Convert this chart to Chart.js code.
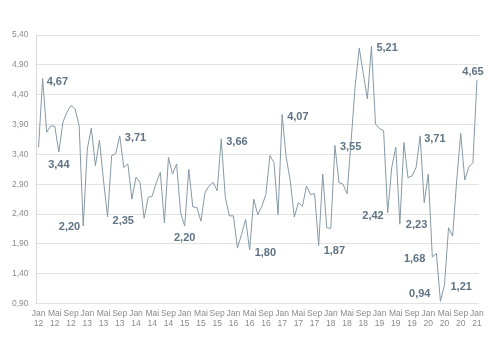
<!DOCTYPE html>
<html>
<head>
<meta charset="utf-8">
<script src="https://cdn.jsdelivr.net/npm/chart.js@4.4.1/dist/chart.umd.min.js"></script>
<style>
  html, body { margin: 0; padding: 0; background: #fff; }
  #wrap { width: 500px; height: 353px; }
</style>
</head>
<body>
<div id="wrap"><canvas id="chart" width="500" height="353"></canvas></div>
<script>
// --- data ---
const monthNames = ['Jan', 'Feb', 'Mär', 'Apr', 'Mai', 'Jun', 'Jul', 'Aug', 'Sep', 'Okt', 'Nov', 'Dez'];
const years = ['12', '13', '14', '15', '16', '17', '18', '19', '20', '21'];

// monthly values, Jan 12 .. Jan 21
const values = [
  3.52, 4.67, 3.77, 3.88, 3.87, 3.44, 3.94, 4.11, 4.22, 4.16, 3.88, 2.20,
  3.49, 3.84, 3.21, 3.64, 2.96, 2.35, 3.38, 3.41, 3.71, 3.18, 3.24, 2.65,
  3.02, 2.93, 2.33, 2.68, 2.70, 2.93, 3.10, 2.25, 3.35, 3.07, 3.24, 2.42,
  2.20, 3.15, 2.52, 2.51, 2.28, 2.76, 2.87, 2.93, 2.79, 3.66, 2.68, 2.37,
  2.37, 1.83, 2.06, 2.31, 1.80, 2.65, 2.39, 2.53, 2.73, 3.38, 3.26, 2.39,
  4.07, 3.35, 2.96, 2.35, 2.59, 2.53, 2.87, 2.73, 2.74, 1.87, 3.07, 2.17,
  2.16, 3.55, 2.93, 2.90, 2.74, 3.63, 4.55, 5.18, 4.75, 4.33, 5.21, 3.91,
  3.83, 3.80, 2.42, 3.18, 3.52, 2.23, 3.60, 3.01, 3.04, 3.18, 3.71, 2.59,
  3.07, 1.68, 1.74, 0.94, 1.21, 2.17, 2.03, 2.96, 3.75, 2.97, 3.19, 3.26,
  4.65
];

// points that carry a value label
const labelledPoints = [1, 5, 11, 17, 20, 36, 45, 52, 60, 69, 73, 82, 86, 89, 94, 97, 99, 100, 108];

// y axis range
const yMin = 0.9, yMax = 5.4, yStep = 0.5;

// category labels: [month, year] for each month
const labels = [];
years.forEach(y => monthNames.forEach(m => labels.push([m, y])));
labels.length = values.length;

const fmt = v => v.toFixed(2).replace('.', ',');

// --- little plugin for the value labels ---
const pointLabels = {
  id: 'pointLabels',
  afterDatasetsDraw(chart, args, opts) {
    const ctx = chart.ctx;
    const meta = chart.getDatasetMeta(0);
    ctx.save();
    ctx.font = opts.font;
    ctx.fillStyle = opts.color;
    ctx.textBaseline = 'middle';
    labelledPoints.forEach(i => {
      const pt = meta.data[i];
      const off = opts.offsets[i] || [5, 3, 'left'];
      ctx.textAlign = off[2];
      ctx.fillText(fmt(values[i]), pt.x + off[0], pt.y + off[1]);
    });
    ctx.restore();
  }
};

const tickFont = { family: "'Liberation Sans', Arial, sans-serif", size: 8.5 };

new Chart(document.getElementById('chart'), {
  type: 'line',
  data: {
    labels: labels,
    datasets: [{
      data: values,
      borderColor: '#8699a6',
      borderWidth: 1,
      pointRadius: 0,
      tension: 0,
      fill: false
    }]
  },
  options: {
    responsive: false,
    animation: false,
    layout: { padding: { top: 35, right: 21, bottom: 19, left: 4 } },
    plugins: {
      legend: { display: false },
      tooltip: { enabled: false },
      pointLabels: {
        font: "bold 11px 'Liberation Sans', Arial, sans-serif",
        color: '#5f7384',
        offsets: {
          1: [4, 3, 'left'],
          5: [0, 13, 'center'],
          11: [-3, 1, 'right'],
          17: [5, 4, 'left'],
          20: [5, 2, 'left'],
          36: [0, 12, 'center'],
          45: [5, 3, 'left'],
          52: [5, 3, 'left'],
          60: [5, 3, 'left'],
          69: [5, 5, 'left'],
          73: [5, 2, 'left'],
          82: [5, 2, 'left'],
          86: [-4, 3, 'right'],
          89: [6, 1, 'left'],
          94: [4, 3, 'left'],
          97: [-7, 2, 'right'],
          99: [-10, -7, 'right'],
          100: [6, 2, 'left'],
          108: [-4, -8, 'center']
        }
      }
    },
    scales: {
      x: {
        offset: true,
        grid: { display: false, drawTicks: false },
        border: { display: false },
        ticks: {
          autoSkip: false,
          maxRotation: 0,
          padding: 5,
          color: '#8a8a8a',
          font: tickFont,
          callback: function (val, i) { return i % 4 === 0 ? labels[i] : null; }
        }
      },
      y: {
        min: yMin,
        max: yMax,
        grid: { color: '#e3e3e3', drawTicks: false },
        border: { display: true, color: '#d6d6d6' },
        ticks: {
          stepSize: yStep,
          padding: 8,
          color: '#8c8c8c',
          font: tickFont,
          callback: v => fmt(v)
        }
      }
    }
  },
  plugins: [pointLabels]
});
</script>
</body>
</html>
